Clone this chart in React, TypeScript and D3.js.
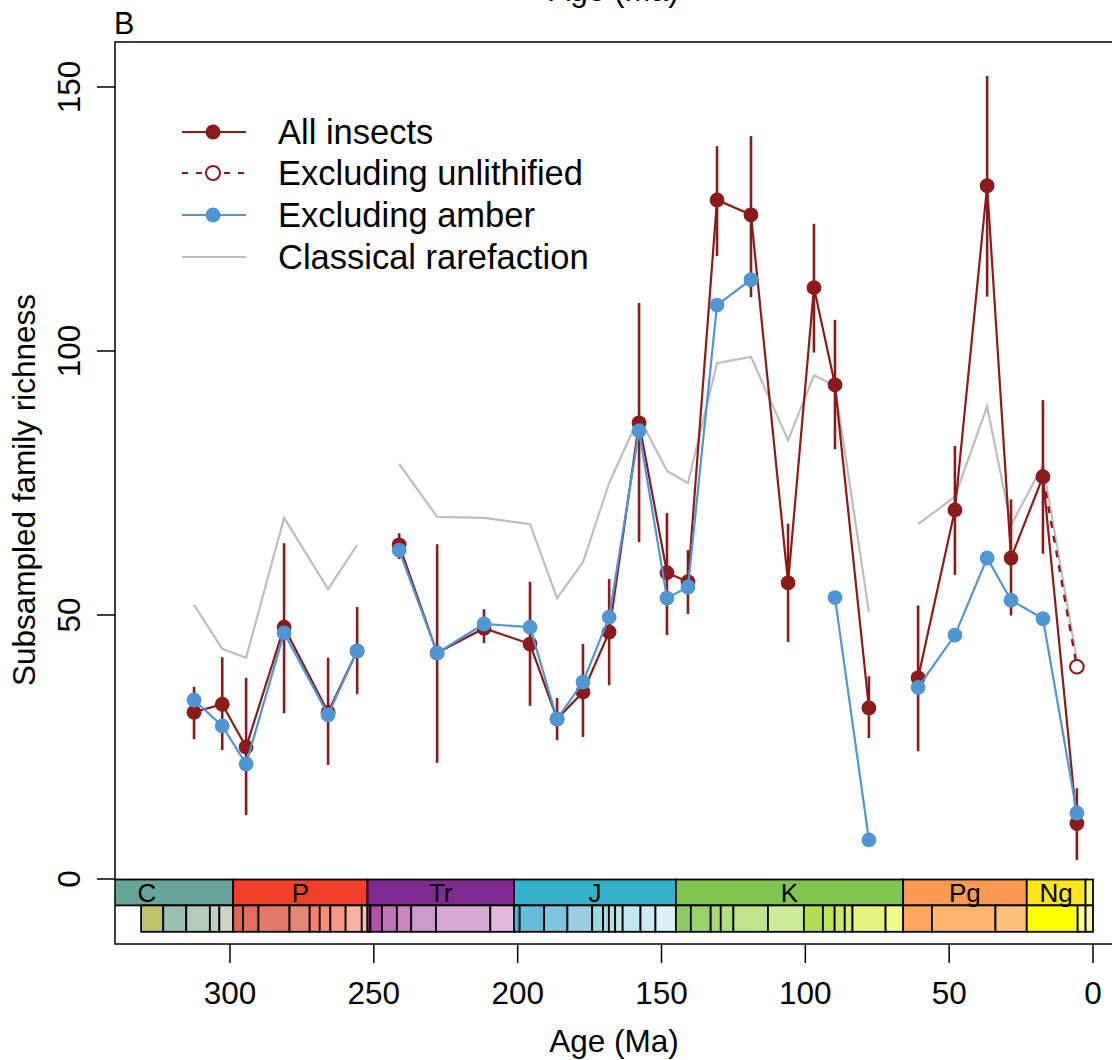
import React from "react";
import * as d3 from "d3";

// ---------- Data ----------
const ages = [312.5, 302.7, 294.4, 281.2, 265.9, 255.8, 241.2, 228.0, 211.7, 195.7, 186.3, 177.3, 168.2, 157.8, 148.1, 140.8, 130.7, 118.9, 106.0, 97.0, 89.7, 77.9, 60.8, 48.0, 36.8, 28.5, 17.4, 5.6];
const segmentIds = [1, 1, 1, 1, 1, 1, 2, 2, 2, 2, 2, 2, 2, 2, 2, 2, 2, 2, 2, 2, 2, 2, 3, 3, 3, 3, 3, 3];
const allInsects = [31.6, 33.1, 25.0, 47.7, 31.6, 43.2, 63.3, 42.8, 47.5, 44.5, 30.3, 35.4, 46.8, 86.4, 58.0, 56.3, 128.6, 125.8, 56.1, 112.0, 93.6, 32.4, 38.1, 69.9, 131.3, 60.8, 76.2, 10.5];
const allLower = [26.5, 24.4, 12.1, 31.4, 21.6, 35.0, 60.6, 22.0, 44.7, 32.8, 26.3, 26.9, 36.7, 63.8, 46.2, 50.2, 118.0, 110.2, 44.9, 99.7, 81.4, 26.7, 24.2, 57.6, 110.3, 49.9, 61.6, 3.6];
const allUpper = [36.4, 42.0, 38.1, 63.6, 41.9, 51.5, 65.5, 63.4, 51.1, 56.3, 34.3, 44.5, 56.8, 109.1, 69.3, 62.3, 138.8, 140.7, 67.3, 124.1, 105.9, 38.4, 51.8, 82.0, 152.1, 71.9, 90.7, 17.2];
const excludingUnlithified: (number | null)[] = [null, null, null, null, null, null, null, null, null, null, null, null, null, null, null, null, null, null, null, null, null, null, null, null, null, null, 76.2, 40.2];
const excludingAmber: (number | null)[] = [33.9, 29.0, 21.8, 46.6, 31.1, 43.2, 62.3, 42.8, 48.3, 47.7, 30.3, 37.3, 49.6, 84.9, 53.2, 55.3, 108.7, 113.5, null, null, 53.3, 7.4, 36.3, 46.2, 60.8, 52.8, 49.3, 12.5];
const classical = [51.9, 43.6, 41.9, 68.4, 54.9, 63.3, 78.6, 68.6, 68.4, 67.2, 53.2, 60.0, 75.0, 87.5, 77.3, 75.0, 97.7, 98.9, 83.1, 95.4, 93.4, 50.6, 67.2, 72.4, 89.5, 67.0, 78.4, 41.5];

const xTicks = [300, 250, 200, 150, 100, 50, 0];
const yTicks = [0, 50, 100, 150];

const legendLabels = ["All insects", "Excluding unlithified", "Excluding amber", "Classical rarefaction"];

// Geological time scale (GTS2012)
const periodNames = ["C", "P", "Tr", "J", "K", "Pg", "Ng", ""];
const periodStart = [358.9, 298.9, 252.2, 201.3, 145.0, 66.0, 23.03, 2.58];
const periodEnd = [298.9, 252.2, 201.3, 145.0, 66.0, 23.03, 2.58, 0];
const periodColors = ["#67A599", "#F04028", "#812B92", "#34B2C9", "#7FC64E", "#FD9A52", "#FFE619", "#F9F97F"];

const stageStart = [330.9, 323.2, 315.2, 307.0, 303.7, 298.9, 295.5, 290.1, 279.3, 272.3, 268.8, 265.1, 259.8, 254.2, 252.2, 251.2, 247.2, 242.0, 237.0, 228.4, 209.5, 201.3, 199.3, 190.8, 182.7, 174.1, 170.3, 168.3, 166.1, 163.5, 157.3, 152.1, 145.0, 139.8, 132.9, 129.4, 125.0, 113.0, 100.5, 93.9, 89.8, 86.3, 83.6, 72.1, 66.0, 56.0, 33.9, 23.03, 5.333, 2.58];
const stageEnd = [323.2, 315.2, 307.0, 303.7, 298.9, 295.5, 290.1, 279.3, 272.3, 268.8, 265.1, 259.8, 254.2, 252.2, 251.2, 247.2, 242.0, 237.0, 228.4, 209.5, 201.3, 199.3, 190.8, 182.7, 174.1, 170.3, 168.3, 166.1, 163.5, 157.3, 152.1, 145.0, 139.8, 132.9, 129.4, 125.0, 113.0, 100.5, 93.9, 89.8, 86.3, 83.6, 72.1, 66.0, 56.0, 33.9, 23.03, 5.333, 2.58, 0];
const stageColors = ["#BFC26B", "#99C2B5", "#B3CBB9", "#BFD0C5", "#CCD4C7", "#E36350", "#E36F5C", "#E37B68", "#E38776", "#FB8069", "#FB8D76", "#FB9A85", "#FCB4A2", "#FCC0B2", "#A4469F", "#B051A5", "#BC75B7", "#C983BF", "#C99BCB", "#D6AAD3", "#E3B9DB", "#4EB3D3", "#67BCD8", "#80C5DD", "#99CEE3", "#9AD9DD", "#A6DDE0", "#B3E2E3", "#BFE7E5", "#BFE7F1", "#CCECF4", "#D9F1F7", "#8CCD60", "#99D36A", "#A6D975", "#B3DF7F", "#BFE48A", "#CCEA97", "#B3DE53", "#BFE35D", "#CCE968", "#D9EF74", "#E6F47F", "#F2FA8C", "#FDA75F", "#FDB46C", "#FEC07A", "#FFFF00", "#FFFF99", "#FFF2AE"];

// ---------- Styles ----------
const RED = "#8B1A1A";
const BLUE = "#5096D2";
const GRAY = "#BEBEBE";
const FONT = "'Liberation Sans', Arial, Helvetica, sans-serif";

const W = 1112;
const H = 1060;
const plotLeft = 115;
const plotTop = 42;
const plotRight = 1114;
const plotBottom = 944;

export default function App() {
  const x = d3.scaleLinear().domain([300, 0]).range([230, 1093]);
  const y = d3.scaleLinear().domain([0, 150]).range([879, 87]);

  type P = { age: number; v: number | null; seg: number };
  const mk = (vals: (number | null)[]): P[] => ages.map((a, i) => ({ age: a, v: vals[i], seg: segmentIds[i] }));

  const line = d3
    .line<P>()
    .defined((d) => d.v != null)
    .x((d) => x(d.age))
    .y((d) => y(d.v as number));

  const segPaths = (pts: P[]) => {
    const groups = d3.groups(pts, (d) => d.seg);
    return groups.map(([, g]) => line(g) || "");
  };

  const redPts = mk(allInsects);
  const bluePts = mk(excludingAmber);
  const grayPts = mk(classical);
  const unlithPts = ages.map((a, i) => ({ age: a, v: excludingUnlithified[i], seg: 0 }));

  const tsTop = y(0) + 0.5;
  const tsMid = y(-5);
  const tsBot = y(-10);

  const legendY = [132, 173, 215, 257];

  return (
    <svg
      width={W}
      height={H}
      style={{ position: "absolute", left: 0, top: 0, background: "#fff" }}
      fontFamily={FONT}
    >
      <defs>
        <clipPath id="plotclip">
          <rect x={plotLeft} y={plotTop} width={plotRight - plotLeft} height={plotBottom - plotTop} />
        </clipPath>
      </defs>

      {/* cut-off axis title from panel above */}
      <text x={614} y={1} fontSize={31.5} textAnchor="middle" fill="#000">
        Age (Ma)
      </text>
      <text x={114} y={34} fontSize={30.5} fill="#000">
        B
      </text>

      {/* time scale */}
      <g clipPath="url(#plotclip)">
        {periodNames.map((n, i) => (
          <rect
            key={"p" + i}
            x={x(periodStart[i])}
            y={tsTop}
            width={x(periodEnd[i]) - x(periodStart[i])}
            height={tsMid - tsTop}
            fill={periodColors[i]}
            stroke="#000"
            strokeWidth={1.8}
          />
        ))}
        {stageStart.map((s, i) => (
          <rect
            key={"s" + i}
            x={x(s)}
            y={tsMid}
            width={x(stageEnd[i]) - x(s)}
            height={tsBot - tsMid}
            fill={stageColors[i]}
            stroke="#000"
            strokeWidth={1.8}
          />
        ))}
        {periodNames.map((n, i) =>
          n ? (
            <text
              key={"pl" + i}
              x={(x(periodStart[i]) + x(periodEnd[i])) / 2}
              y={tsMid - 3}
              fontSize={26}
              textAnchor="middle"
              fill="#000"
            >
              {n}
            </text>
          ) : null
        )}
      </g>

      {/* data */}
      <g clipPath="url(#plotclip)">
        {segPaths(grayPts).map((d, i) => (
          <path key={"g" + i} d={d} fill="none" stroke={GRAY} strokeWidth={2.2} />
        ))}
        <path d={line(unlithPts) || ""} fill="none" stroke={RED} strokeWidth={2.4} strokeDasharray="7,8" />
        {ages.map((a, i) => (
          <line
            key={"e" + i}
            x1={x(a)}
            x2={x(a)}
            y1={y(allLower[i])}
            y2={y(allUpper[i])}
            stroke={RED}
            strokeWidth={2.6}
          />
        ))}
        {segPaths(redPts).map((d, i) => (
          <path key={"r" + i} d={d} fill="none" stroke={RED} strokeWidth={2.2} />
        ))}
        {redPts.map((p, i) => (
          <circle key={"rc" + i} cx={x(p.age)} cy={y(p.v as number)} r={7.4} fill={RED} />
        ))}
        {unlithPts.map((p, i) =>
          excludingUnlithified[i] != null && i === ages.length - 1 ? (
            <circle key={"uc" + i} cx={x(p.age)} cy={y(p.v as number)} r={6.8} fill="#fff" stroke={RED} strokeWidth={2} />
          ) : null
        )}
        {segPaths(bluePts).map((d, i) => (
          <path key={"b" + i} d={d} fill="none" stroke={BLUE} strokeWidth={2.2} />
        ))}
        {bluePts.map((p, i) =>
          p.v != null ? <circle key={"bc" + i} cx={x(p.age)} cy={y(p.v)} r={7.4} fill={BLUE} /> : null
        )}
      </g>

      {/* frame */}
      <rect
        x={plotLeft}
        y={plotTop}
        width={plotRight - plotLeft}
        height={plotBottom - plotTop}
        fill="none"
        stroke="#000"
        strokeWidth={1.5}
      />

      {/* y axis */}
      {yTicks.map((t) => (
        <g key={"yt" + t}>
          <line x1={plotLeft - 18} x2={plotLeft} y1={y(t)} y2={y(t)} stroke="#000" strokeWidth={1.5} />
          <text
            transform={`translate(${80},${y(t)}) rotate(-90)`}
            fontSize={31.5}
            textAnchor="middle"
            fill="#000"
          >
            {t}
          </text>
        </g>
      ))}
      <text transform={`translate(35,490) rotate(-90)`} fontSize={31.5} textAnchor="middle" fill="#000">
        Subsampled family richness
      </text>

      {/* x axis */}
      {xTicks.map((t) => (
        <g key={"xt" + t}>
          <line x1={x(t)} x2={x(t)} y1={plotBottom} y2={plotBottom + 19} stroke="#000" strokeWidth={1.5} />
          <text x={x(t)} y={1004} fontSize={31.5} textAnchor="middle" fill="#000">
            {t}
          </text>
        </g>
      ))}
      <text x={614} y={1052} fontSize={31.5} textAnchor="middle" fill="#000">
        Age (Ma)
      </text>

      {/* legend */}
      <g>
        <line x1={182} x2={246} y1={legendY[0]} y2={legendY[0]} stroke={RED} strokeWidth={2.2} />
        <circle cx={213} cy={legendY[0]} r={7.5} fill={RED} />
        <line x1={182} x2={246} y1={legendY[1]} y2={legendY[1]} stroke={RED} strokeWidth={2.2} strokeDasharray="6,8" />
        <circle cx={213} cy={legendY[1]} r={7} fill="#fff" stroke={RED} strokeWidth={2} />
        <line x1={182} x2={246} y1={legendY[2]} y2={legendY[2]} stroke={BLUE} strokeWidth={2.2} />
        <circle cx={213} cy={legendY[2]} r={7.5} fill={BLUE} />
        <line x1={182} x2={246} y1={legendY[3]} y2={legendY[3]} stroke={GRAY} strokeWidth={2.2} />
        {legendLabels.map((l, i) => (
          <text key={"ll" + i} x={278} y={legendY[i] + 12} fontSize={34.5} fill="#000">
            {l}
          </text>
        ))}
      </g>
    </svg>
  );
}
